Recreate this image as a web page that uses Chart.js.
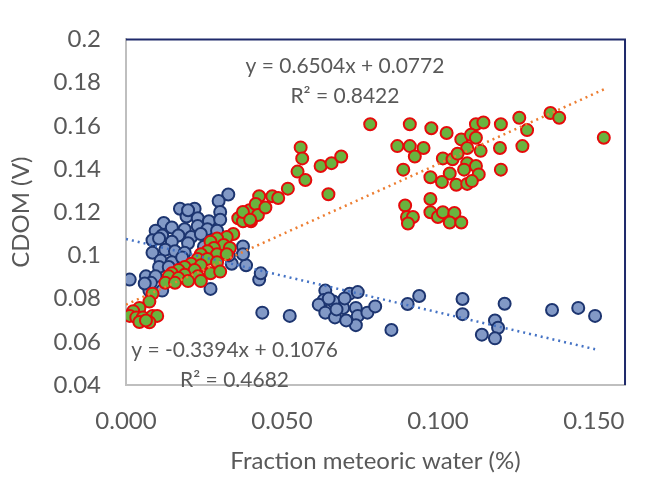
<!DOCTYPE html>
<html>
<head>
<meta charset="utf-8">
<script src="https://cdn.jsdelivr.net/npm/chart.js@4.4.0/dist/chart.umd.min.js"></script>
<style>
  body { margin: 0; background: #fff; }
  #box { width: 647px; height: 477px; }
</style>
</head>
<body>
<div id="box"><canvas id="chart" width="647" height="477"></canvas></div>
<script>
// blue series (x = fraction meteoric water, y = CDOM)
const blueFraction = [
  0.0328, 0.0297, 0.0173, 0.0220, 0.0302, 0.0194, 0.0230, 0.0266, 0.0302, 0.0121,
  0.0147, 0.0095, 0.0188, 0.0230, 0.0261, 0.0292, 0.0116, 0.0168, 0.0209, 0.0240,
  0.0085, 0.0147, 0.0199, 0.0085, 0.0126, 0.0157, 0.0188, 0.0111, 0.0147, 0.0106,
  0.0137, 0.0375, 0.0385, 0.0375, 0.0012, 0.0064, 0.0095, 0.0075, 0.0116, 0.0271,
  0.0339, 0.0427, 0.0432, 0.0437, 0.0080, 0.0106, 0.0199, 0.0250, 0.0180, 0.0280,
  0.0330, 0.0060,
  0.0525, 0.0639, 0.0634, 0.0618, 0.0665, 0.0639, 0.0670, 0.0696, 0.0717, 0.0743,
  0.0701, 0.0737, 0.0743, 0.0774, 0.0737, 0.0706, 0.0799, 0.0851, 0.0903, 0.0940,
  0.0675, 0.0650,
  0.1079, 0.1079, 0.1214, 0.1183, 0.1193, 0.1141, 0.1183, 0.1366, 0.1450, 0.1504
];
const blueCdom = [
  0.1282, 0.1252, 0.1216, 0.1216, 0.1201, 0.1180, 0.1172, 0.1158, 0.1165, 0.1150,
  0.1129, 0.1114, 0.1121, 0.1136, 0.1121, 0.1114, 0.1092, 0.1092, 0.1085, 0.1099,
  0.1070, 0.1063, 0.1056, 0.1012, 0.1026, 0.1019, 0.1012, 0.0976, 0.0968, 0.0946,
  0.0946, 0.1041, 0.0954, 0.1005, 0.0888, 0.0903, 0.0903, 0.0837, 0.0837, 0.0845,
  0.0961, 0.0888, 0.0917, 0.0735, 0.0873, 0.1078, 0.1209, 0.1040, 0.0990, 0.0990,
  0.1000, 0.0870,
  0.0720, 0.0837, 0.0793, 0.0772, 0.0786, 0.0735, 0.0713, 0.0757, 0.0823, 0.0830,
  0.0801, 0.0757, 0.0720, 0.0735, 0.0677, 0.0699, 0.0764, 0.0655, 0.0775, 0.0812,
  0.0750, 0.0800,
  0.0798, 0.0728, 0.0776, 0.0699, 0.0665, 0.0633, 0.0616, 0.0747, 0.0757, 0.0720
];

// green/red series
const greenFraction = [
  0.0344, 0.0323, 0.0292, 0.0271, 0.0313, 0.0333, 0.0282, 0.0261, 0.0292, 0.0323,
  0.0240, 0.0230, 0.0261, 0.0292, 0.0209, 0.0240, 0.0188, 0.0220, 0.0168, 0.0147,
  0.0188, 0.0230, 0.0137, 0.0168, 0.0126, 0.0157, 0.0199, 0.0240, 0.0271, 0.0302,
  0.0085, 0.0075, 0.0043, 0.0023, 0.0012, 0.0033, 0.0054, 0.0085, 0.0100, 0.0075,
  0.0043, 0.0064,
  0.0360, 0.0375, 0.0401, 0.0396, 0.0427, 0.0416, 0.0375, 0.0423, 0.0447, 0.0469,
  0.0488, 0.0519, 0.0398,
  0.0560, 0.0565, 0.0550, 0.0624, 0.0659, 0.0690, 0.0575, 0.0649,
  0.0783, 0.0910, 0.0979, 0.1028, 0.1122, 0.1146, 0.1202, 0.1261, 0.1361, 0.1389,
  0.1286, 0.1532, 0.0870, 0.0910, 0.0954, 0.0926, 0.1075, 0.1106, 0.1122, 0.1094,
  0.1137, 0.1199, 0.1271, 0.1016, 0.1047, 0.1063, 0.0889, 0.1094, 0.1122, 0.1084,
  0.1131, 0.1202, 0.0976, 0.1038, 0.1013, 0.1059, 0.1094, 0.1109, 0.0976, 0.0895,
  0.0901, 0.0920, 0.0904, 0.0976, 0.1000, 0.1016, 0.1053, 0.1038, 0.1075
];
const greenCdom = [
  0.1099, 0.1085, 0.1078, 0.1063, 0.1048, 0.1034, 0.1034, 0.1019, 0.1005, 0.1005,
  0.1005, 0.0983, 0.0983, 0.0968, 0.0961, 0.0954, 0.0946, 0.0932, 0.0932, 0.0917,
  0.0910, 0.0903, 0.0903, 0.0895, 0.0873, 0.0873, 0.0881, 0.0881, 0.0917, 0.0925,
  0.0823, 0.0786, 0.0757, 0.0742, 0.0720, 0.0713, 0.0713, 0.0720, 0.0720, 0.0690,
  0.0692, 0.0699,
  0.1172, 0.1158, 0.1158, 0.1209, 0.1274, 0.1238, 0.1201, 0.1187, 0.1222, 0.1274,
  0.1266, 0.1309, 0.1165,
  0.1500, 0.1449, 0.1388, 0.1414, 0.1427, 0.1458, 0.1349, 0.1283,
  0.1607, 0.1607, 0.1589, 0.1567, 0.1607, 0.1615, 0.1607, 0.1637, 0.1659, 0.1637,
  0.1580, 0.1545, 0.1506, 0.1506, 0.1497, 0.1458, 0.1537, 0.1558, 0.1545, 0.1497,
  0.1484, 0.1497, 0.1506, 0.1449, 0.1445, 0.1471, 0.1397, 0.1427, 0.1414, 0.1397,
  0.1375, 0.1397, 0.1362, 0.1379, 0.1340, 0.1327, 0.1331, 0.1344, 0.1261, 0.1231,
  0.1178, 0.1178, 0.1148, 0.1200, 0.1178, 0.1200, 0.1196, 0.1152, 0.1152
];

// linear trendlines as printed on the chart: [slope, intercept]
const greenFit = [0.6504, 0.0772];
const blueFit = [-0.3394, 0.1076];
const greenFitLabel = ["y = 0.6504x + 0.0772", "R² = 0.8422"];
const blueFitLabel = ["y = -0.3394x + 0.1076", "R² = 0.4682"];

const xTicks = [0, 0.05, 0.1, 0.15];
const yTicks = [0.04, 0.06, 0.08, 0.1, 0.12, 0.14, 0.16, 0.18, 0.2];

const toPoints = (xs, ys) => xs.map((x, i) => ({ x: x, y: ys[i] }));
const fitLine = (xs, fit) => {
  const lo = Math.min(0, ...xs), hi = Math.max(...xs);
  return [lo, hi].map(x => ({ x: x, y: fit[0] * x + fit[1] }));
};

const textColor = "#595959";
const fontFamily = "Lato, 'Open Sans', sans-serif";

const decorations = {
  id: "decorations",
  afterDraw(chart) {
    const { ctx, chartArea: a, scales } = chart;
    ctx.save();
    // plot area border top/right
    ctx.strokeStyle = "#1f2a6b";
    ctx.lineWidth = 2;
    ctx.beginPath();
    ctx.moveTo(a.left, a.top);
    ctx.lineTo(a.right, a.top);
    ctx.lineTo(a.right, a.bottom);
    ctx.stroke();

    ctx.fillStyle = textColor;
    ctx.font = "21px " + fontFamily;
    ctx.textAlign = "center";
    ctx.textBaseline = "middle";
    const put = (lines, xv, yv) => {
      const px = scales.x.getPixelForValue(xv);
      const py = scales.y.getPixelForValue(yv);
      ctx.fillText(lines[0], px, py);
      ctx.fillText(lines[1], px, py + 30);
    };
    put(greenFitLabel, 0.0702, 0.1878);
    put(blueFitLabel, 0.0348, 0.0562);
    ctx.restore();
  }
};

new Chart(document.getElementById("chart"), {
  type: "scatter",
  plugins: [decorations],
  data: {
    datasets: [
      {
        type: "line",
        data: fitLine(greenFraction, greenFit),
        borderColor: "#ed7d31",
        borderWidth: 2.5,
        borderDash: [2, 4],
        pointRadius: 0,
        order: 0,
      },
      {
        type: "line",
        data: fitLine(blueFraction, blueFit),
        borderColor: "#4472c4",
        borderWidth: 2.5,
        borderDash: [2, 4],
        pointRadius: 0,
        order: 0,
      },
      {
        data: toPoints(greenFraction, greenCdom),
        backgroundColor: "#6ab33e",
        borderColor: "#e50b0b",
        borderWidth: 2,
        pointRadius: 6,
        order: 1,
      },
      {
        data: toPoints(blueFraction, blueCdom),
        backgroundColor: "#8299c6",
        borderColor: "#1d3570",
        borderWidth: 2,
        pointRadius: 6,
        order: 2,
      },
    ],
  },
  options: {
    responsive: false,
    animation: false,
    layout: { padding: { top: 19, right: 6, left: 0, bottom: 0 } },
    plugins: {
      legend: { display: false },
      tooltip: { enabled: false },
    },
    scales: {
      x: {
        type: "linear",
        min: 0,
        max: 0.16,
        afterFit: (s) => { s.height = 92; },
        afterBuildTicks: (s) => { s.ticks = xTicks.map(v => ({ value: v })); },
        grid: { display: false, drawTicks: false },
        border: { display: true, color: "#bfbfbf", width: 2 },
        ticks: {
          padding: 22,
          color: textColor,
          font: { family: fontFamily, size: 24 },
          callback: (v) => v.toFixed(3),
        },
        title: {
          display: true,
          text: "Fraction meteoric water (%)",
          color: textColor,
          font: { family: fontFamily, size: 24 },
          padding: { top: 0, bottom: 1 },
        },
      },
      y: {
        min: 0.04,
        max: 0.2,
        afterFit: (s) => { s.width = 126; },
        afterBuildTicks: (s) => { s.ticks = yTicks.map(v => ({ value: v })); },
        grid: { display: false, drawTicks: false },
        border: { display: true, color: "#bfbfbf", width: 2 },
        ticks: {
          padding: 25,
          color: textColor,
          font: { family: fontFamily, size: 24 },
          callback: (v) => String(+v.toFixed(2)),
        },
        title: {
          display: true,
          text: "CDOM (V)",
          color: textColor,
          font: { family: fontFamily, size: 24 },
          padding: { top: 7, bottom: 0 },
        },
      },
    },
  },
});
</script>
</body>
</html>
